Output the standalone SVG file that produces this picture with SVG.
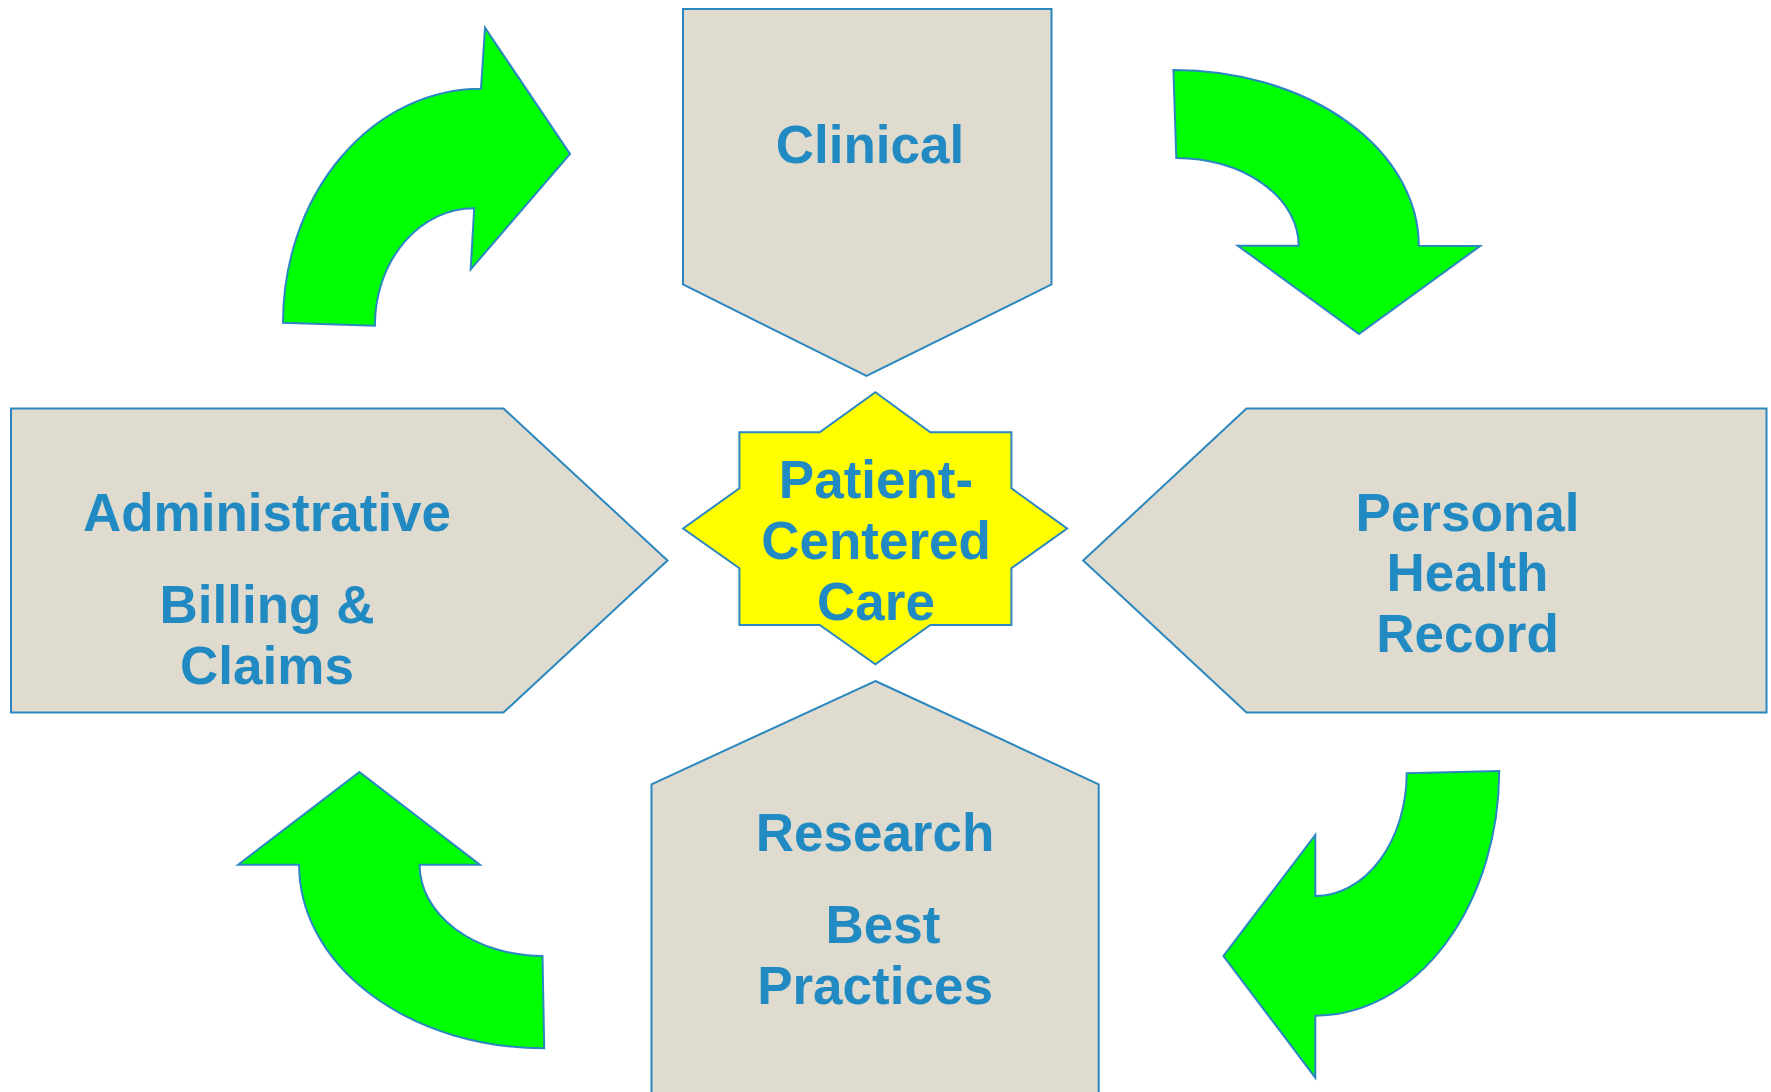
<svg xmlns="http://www.w3.org/2000/svg" width="1771" height="1092" viewBox="0 0 1771 1092">
<style>
.box{fill:#DFDBCE;stroke:#2A87C0;stroke-width:2}
.star{fill:#FFFF00;stroke:#2A87C0;stroke-width:2}
.arrow{fill:#00FF00;stroke:#2A87C0;stroke-width:2;stroke-linejoin:miter}
.t{font-family:"Liberation Sans",Arial,sans-serif;font-weight:bold;font-size:53px;fill:#218AC2;text-anchor:middle}
</style>
<rect width="1771" height="1092" fill="#FFFFFF"/>
<g id="connectors">
<path id="arrow-admin-clinical" class="arrow" d="M283,322.7 A198,234 0 0 1 481,88.7 L485,27.7 L570,154 L470.7,269.3 L474.2,208.3 A99,117 0 0 0 374.9,325.7 Z"/>
<path id="arrow-clinical-phr" class="arrow" d="M1173.4,70 A245,176 0 0 1 1418.8,245.7 L1480.2,246 L1359,334 L1237.8,245.7 L1298.7,245.7 A122,88 0 0 0 1176.3,158 Z"/>
<path id="arrow-phr-research" class="arrow" d="M1499.2,771 A184,245 0 0 1 1315.3,1015.7 L1315.3,1077.7 L1223.4,956 L1315.3,835 L1315.3,896 A91.4,123 0 0 0 1406.7,773.3 Z"/>
<path id="arrow-research-admin" class="arrow" d="M544.2,1048.3 A245,183.6 0 0 1 299.1,864.7 L238.2,864.7 L359.4,772 L479.9,864.7 L419.6,864.7 A123,91.3 0 0 0 542.5,956 Z"/>
</g>
<g id="clinical">
<path class="box" d="M683,9 L1051.5,9 L1051.5,284.5 L866.5,376 L683,284.5 Z"/>
<text class="t" x="870" y="163">Clinical</text>
</g>
<g id="administrative">
<path class="box" d="M11,408.5 L503.5,408.5 L667.5,560.5 L503.5,712.5 L11,712.5 Z"/>
<text class="t" x="267" y="531">Administrative</text>
<text class="t" x="267" y="623">Billing &amp;</text>
<text class="t" x="267" y="684">Claims</text>
</g>
<g id="personal-health-record">
<path class="box" d="M1083.2,560.5 L1246.5,408.5 L1766.5,408.5 L1766.5,712.5 L1246.5,712.5 Z"/>
<text class="t" x="1467.5" y="531">Personal</text>
<text class="t" x="1467.5" y="591">Health</text>
<text class="t" x="1467.5" y="652">Record</text>
</g>
<g id="research">
<path class="box" d="M875.4,681 L1098.7,784.3 L1098.7,1100 L651.5,1100 L651.5,784.3 Z"/>
<text class="t" x="875" y="851">Research</text>
<text class="t" x="883" y="943">Best</text>
<text class="t" x="875" y="1004">Practices</text>
</g>
<g id="patient-centered-care">
<polygon class="star" points="875.4,392.3 930.3,432.3 1011.4,432.3 1011.4,488.3 1067.1,528.5 1011.4,568.3 1011.4,625 930.3,625 875.4,664.3 819.7,625 739.4,625 739.4,568.3 683.1,528.5 739.4,488.3 739.4,432.3 819.7,432.3"/>
<text class="t" x="876" y="498">Patient-</text>
<text class="t" x="876" y="559">Centered</text>
<text class="t" x="876" y="620">Care</text>
</g>
</svg>
